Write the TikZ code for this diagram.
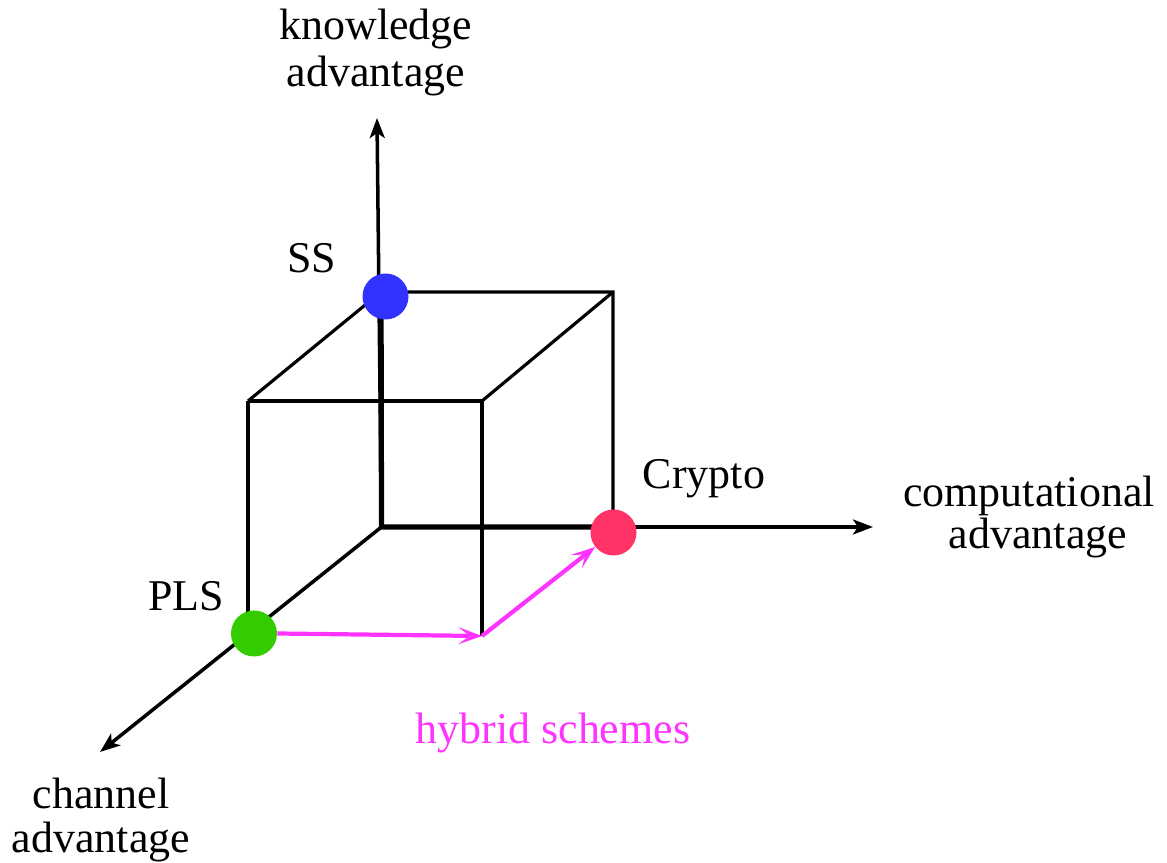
\documentclass[tikz,border=0pt]{standalone}
\usepackage{fontspec}
\setmainfont{Liberation Serif}
\usepackage{tikz}
\usetikzlibrary{arrows.meta, positioning}
\usepackage{xcolor}
\definecolor{hybridpink}{HTML}{FF33FF}
\definecolor{ssblue}{HTML}{3333FF}
\definecolor{plsgreen}{HTML}{33CC00}
\definecolor{cryptored}{HTML}{FF3366}

\begin{document}
\begin{tikzpicture}[
    axis/.style  = {-{Stealth[length=0.4cm, width=0.3cm, inset=0.1cm]}, line width=2pt},
    edge/.style  = {line width=1.8pt},
    back/.style  = {line width=3pt},
    harr/.style  = {-{Stealth[length=0.47cm, width=0.34cm, inset=0.22cm]}, line width=2.4pt, color=hybridpink},
    dot/.style   = {circle, inner sep=0pt, minimum size=0.92cm},
    lbl/.style   = {font=\fontsize{25}{27}\selectfont, inner sep=0pt, align=center},
  ]
    \useasboundingbox (0,0) rectangle (23.34,17.26);

    %% ── Cube corners ────────────────────────────────────────────────────────
    \coordinate (o)   at (7.63,  6.72);
    \coordinate (btl) at (7.62,  11.42);
    \coordinate (btr) at (12.26, 11.42);
    \coordinate (bbr) at (12.26, 6.72);
    \coordinate (ftl) at (4.96,  9.24);
    \coordinate (ftr) at (9.64,  9.24);
    \coordinate (fbr) at (9.64,  4.54);
    \coordinate (fbl) at (4.96,  4.60);

    %% ── Axis tips ───────────────────────────────────────────────────────────
    \coordinate (know) at (7.54,  14.90);
    \coordinate (comp) at (17.46, 6.72);
    \coordinate (chan) at (2.00,  2.22);

    %% Cube edges
    \draw[edge] (ftl) -- (ftr) -- (fbr);
    \draw[edge] (ftl) -- (fbl);
    \draw[edge] (ftl) -- (btl) -- (btr) -- (bbr);
    \draw[edge] (ftr) -- (btr);
    \draw[back] (btl) -- (o) -- (bbr);

    %% Axes
    \draw[axis] (o) -- (know);
    \draw[axis] (o) -- (comp);
    \draw[axis] (o) -- (chan);

    %% ── Schemes ─────────────────────────────────────────────────────────────
    \node[dot, fill=ssblue]    (ss)     at (7.71,  11.33) {};
    \node[dot, fill=plsgreen]  (pls)    at (5.08,  4.59)  {};
    \node[dot, fill=cryptored] (crypto) at (12.27, 6.61)  {};

    %% Hybrid path PLS → Crypto
    \draw[harr] (pls.east) -- (fbr);
    \draw[harr] (fbr) -- (crypto);

    %% ── Labels ──────────────────────────────────────────────────────────────
    \node[lbl] (knowlbl) at (7.52, 16.21) {knowledge\\advantage};
    \node[lbl] (complbl) at (20.58, 6.92) {computational\\[-3.3pt]\hspace*{0.36cm}advantage};
    \node[lbl] (chanlbl) at (2.02, 0.86)  {channel\\[-1.5pt]advantage};
    \node[lbl, anchor=base, text=hybridpink] (hyblbl) at (11.06, 2.39) {hybrid schemes};
    \node[lbl, anchor=base] (sslbl)     at (6.24,  11.80) {SS};
    \node[lbl, anchor=base] (plslbl)    at (3.72,  5.04)  {PLS};
    \node[lbl, anchor=base] (cryptolbl) at (14.08, 7.48)  {Crypto};

  \end{tikzpicture}
\end{document}
